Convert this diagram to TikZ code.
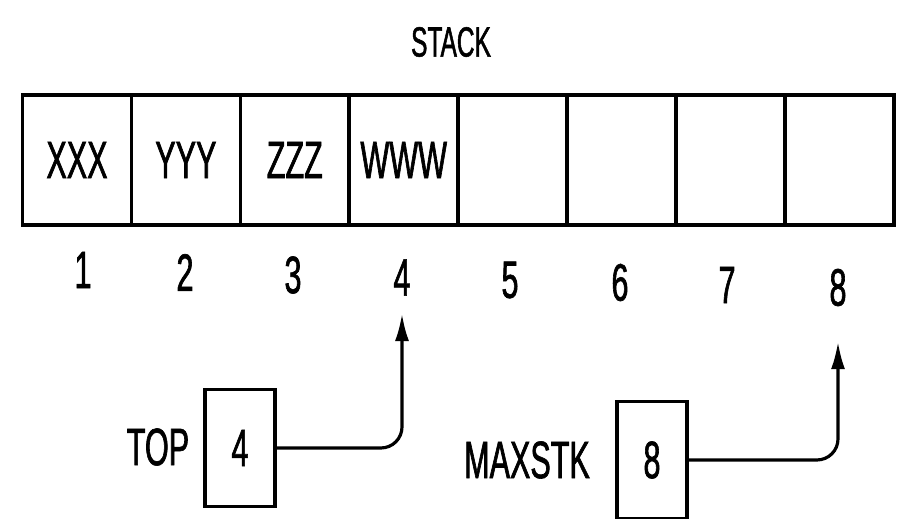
\documentclass[tikz,border=0pt]{standalone}
\usepackage{fontspec}
\setmainfont{Liberation Sans}
\newfontfamily\narrowsf[FakeStretch=0.58,FakeBold=1.2]{Liberation Sans}
\usetikzlibrary{arrows.meta,positioning}
\tikzset{
  cell/.style={draw,line width=2pt,minimum width=2.18cm,minimum height=2.6cm,
    inner sep=0pt,font=\narrowsf\fontsize{30}{32}\selectfont},
  idx/.style={inner sep=2pt,font=\narrowsf\fontsize{30}{32}\selectfont},
  regbox/.style={draw,line width=2pt,minimum width=1.4cm,minimum height=2.34cm,
    inner sep=0pt,font=\narrowsf\fontsize{30}{32}\selectfont},
  reglabel/.style={font=\narrowsf\fontsize{30}{32}\selectfont},
  arr/.style={-{Latex[length=5.5mm,width=2.8mm]},line width=1.8pt,rounded corners=12pt},
}

\begin{document}
\begin{tikzpicture}[x=0.02cm,y=-0.02cm]
    \useasboundingbox (0,0) rectangle (900,519);
    % title
    \node[font=\narrowsf\fontsize{24}{26}\selectfont] (title) at (451,42) {STACK};
    % array cells
    \foreach \i/\txt in {1/XXX,2/YYY,3/ZZZ,4/WWW,5/,6/,7/,8/}
      \node[cell] (c\i) at ({77+(\i-1)*108.9},160) {\txt};
    % indices
    \foreach \i/\x in {1/83,2/185,3/293,4/402,5/510,6/620,7/727,8/838}
      \node[idx] (i\i) at (\x,{270+(\i-1)*2.5}) {\i};
    % pointer registers
    \node[regbox] (topbox) at (240,448) {4};
    \node[reglabel] (toplbl) at (158,447) {TOP};
    \node[regbox] (maxbox) at (652,460) {8};
    \node[reglabel] (maxlbl) at (527,460) {MAXSTK};
    % arrows
    \draw[arr,shorten >=8pt] (topbox.east) -| (i4.south);
    \draw[arr,shorten >=18pt] (maxbox.east) -| (i8.south);
  \end{tikzpicture}
\end{document}
